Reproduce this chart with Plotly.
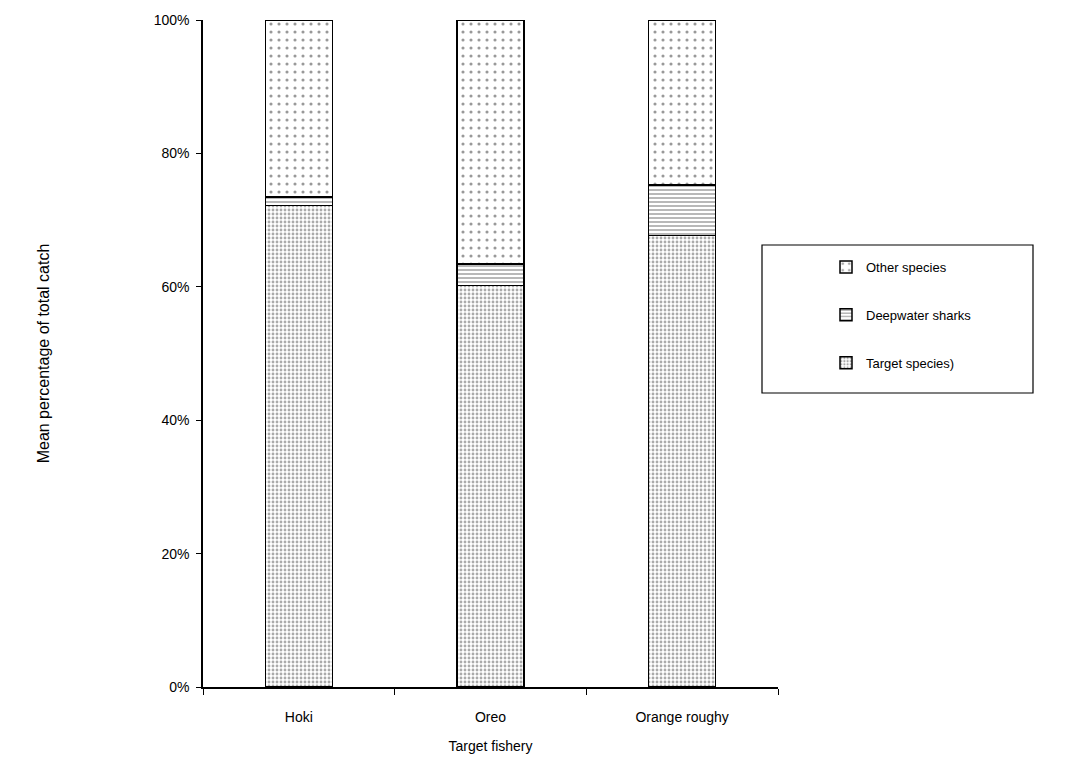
import plotly.graph_objects as go

categories = ["Hoki", "Oreo", "Orange roughy"]
target_species = [72.2, 60.2, 67.7]
deepwater_sharks = [1.3, 3.2, 7.6]
other_species = [26.5, 36.6, 24.7]
y_ticks = [0, 20, 40, 60, 80, 100]
y_tick_labels = ["0%", "20%", "40%", "60%", "80%", "100%"]

fig = go.Figure()
fig.add_trace(go.Bar(
    x=categories, y=target_species, name="Target species)", legendgroup="a", legendrank=3,
    marker=dict(color="white", line=dict(color="black", width=1.5),
                pattern=dict(shape=".", size=4, solidity=0.4, fgcolor="#555555", bgcolor="white", fillmode="overlay")),
))
fig.add_trace(go.Bar(
    x=categories, y=deepwater_sharks, name="Deepwater sharks", legendgroup="b", legendrank=2,
    marker=dict(color="white", line=dict(color="black", width=1.5),
                pattern=dict(shape="-", size=4, solidity=0.35, fgcolor="#333333", bgcolor="white", fillmode="overlay")),
))
fig.add_trace(go.Bar(
    x=categories, y=other_species, name="Other species", legendgroup="c", legendrank=1,
    marker=dict(color="white", line=dict(color="black", width=1.5),
                pattern=dict(shape=".", size=8, solidity=0.12, fgcolor="#333333", bgcolor="white", fillmode="overlay")),
))

fig.update_layout(
    barmode="stack",
    bargap=0.65,
    width=1065, height=760,
    margin=dict(l=203, r=287, t=20, b=73),
    paper_bgcolor="white", plot_bgcolor="white",
    font=dict(family="Liberation Sans, Arial, sans-serif", size=14, color="black"),
    showlegend=True,
    legend=dict(
        x=(826 - 203) / 575, xanchor="left", y=(687 - 252) / 667, yanchor="top",
        xref="paper", yref="paper",
        traceorder="grouped", tracegroupgap=28,
        font=dict(size=13, color="black"),
        bgcolor="rgba(0,0,0,0)", borderwidth=0,
        itemwidth=30,
    ),
    shapes=[dict(type="rect", xref="paper", yref="paper",
                 x0=(762 - 203) / 575, x1=(1033 - 203) / 575,
                 y0=(687 - 393) / 667, y1=(687 - 245) / 667,
                 line=dict(color="black", width=1.2), fillcolor="rgba(0,0,0,0)")],
)

fig.update_xaxes(
    automargin=False,
    showline=True, linecolor="black", linewidth=1.5,
    ticks="outside", tickson="boundaries", ticklen=6, tickcolor="black",
    showgrid=False, tickfont=dict(size=14), ticklabelstandoff=16,
    title=dict(text="Target fishery", font=dict(size=14), standoff=18),
)
fig.update_yaxes(
    automargin=False,
    range=[0, 100], tickvals=y_ticks, ticktext=y_tick_labels,
    showline=True, linecolor="black", linewidth=1.5,
    ticks="outside", ticklen=5, tickcolor="black",
    showgrid=False, zeroline=False, tickfont=dict(size=14), ticklabelstandoff=4,
    title=dict(text="Mean percentage of total catch", font=dict(size=16), standoff=100),
)

fig.write_html("out.html")
